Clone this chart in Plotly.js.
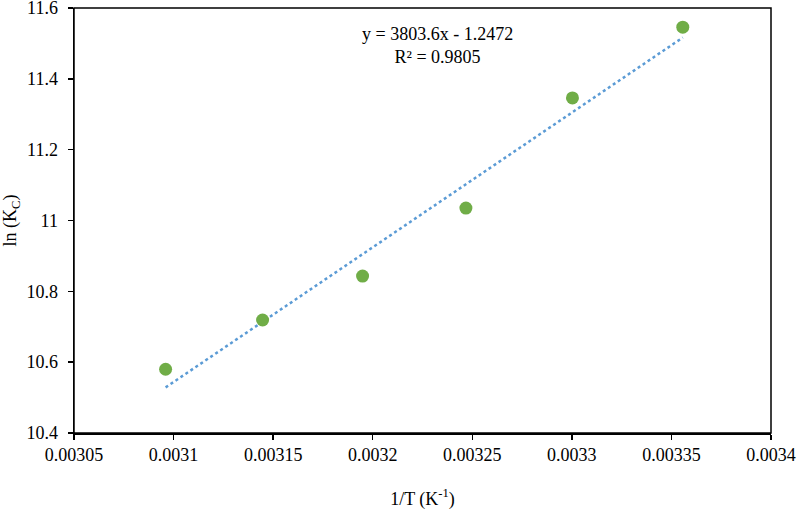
<!DOCTYPE html>
<html>
<head>
<meta charset="utf-8">
<script src="https://cdn.plot.ly/plotly-3.0.1.min.js"></script>
<style>html,body{margin:0;padding:0;background:#fff;}#chart{width:797px;height:512px;}</style>
</head>
<body>
<div id="chart"></div>
<script>
const invT = [0.0030960, 0.0031447, 0.0031949, 0.0032468, 0.0033003, 0.0033557];
const lnKc = [10.580, 10.719, 10.843, 11.035, 11.346, 11.546];
const slope = 3803.6;
const intercept = -1.2472;
const r2 = 0.9805;
const xTicks = [0.00305, 0.0031, 0.00315, 0.0032, 0.00325, 0.0033, 0.00335, 0.0034];
const xTickText = ['0.00305', '0.0031', '0.00315', '0.0032', '0.00325', '0.0033', '0.00335', '0.0034'];
const yTicks = [10.4, 10.6, 10.8, 11, 11.2, 11.4, 11.6];
const yTickText = ['10.4', '10.6', '10.8', '11', '11.2', '11.4', '11.6'];

const xFit = [Math.min(...invT), Math.max(...invT)];
const yFit = xFit.map(x => slope * x + intercept);

const font = {family: 'Liberation Serif', color: '#000', size: 18};

const traces = [
  {x: xFit, y: yFit, mode: 'lines', type: 'scatter',
   line: {color: '#5B9BD5', width: 2.5, dash: 'dot'}, hoverinfo: 'skip'},
  {x: invT, y: lnKc, mode: 'markers', type: 'scatter',
   marker: {color: '#70AD47', size: 13}}
];

const layout = {
  width: 797, height: 512,
  margin: {l: 74, r: 26, t: 8, b: 79},
  paper_bgcolor: '#fff', plot_bgcolor: '#fff',
  showlegend: false,
  font: font,
  xaxis: {
    range: [0.00305, 0.0034], tickvals: xTicks, ticktext: xTickText,
    showgrid: false, zeroline: false, showline: true, linecolor: '#000', linewidth: 1.5,
    mirror: false, ticks: 'outside', ticklen: 5, tickcolor: '#000', tickwidth: 1.5,
    tickfont: font, ticklabeloverflow: 'allow',
    title: {text: '1/T (K<sup>-1</sup>)', font: font, standoff: 28}
  },
  yaxis: {
    range: [10.4, 11.6], tickvals: yTicks, ticktext: yTickText,
    showgrid: false, zeroline: false, showline: true, linecolor: '#000', linewidth: 1.5,
    mirror: false, ticks: 'outside', ticklen: 5, tickcolor: '#000', tickwidth: 1.5,
    tickfont: font, ticklabelstandoff: 6, ticklabeloverflow: 'allow',
    title: {text: 'ln (K<sub>C</sub>)', font: font, standoff: 6}
  },
  shapes: [{
    type: 'rect', xref: 'paper', yref: 'paper', x0: 0, x1: 1, y0: 0, y1: 1,
    line: {color: '#000', width: 1.5}, layer: 'above'
  }],
  annotations: [{
    xref: 'paper', yref: 'paper', x: 0.521, y: 0.911, xanchor: 'center', yanchor: 'middle',
    text: 'y = 3803.6x - 1.2472<br>R² = ' + r2, showarrow: false, align: 'center',
    font: {family: 'Liberation Serif', size: 18, color: '#000'}
  }]
};

Plotly.newPlot('chart', traces, layout, {displayModeBar: false, staticPlot: true});
</script>
</body>
</html>
